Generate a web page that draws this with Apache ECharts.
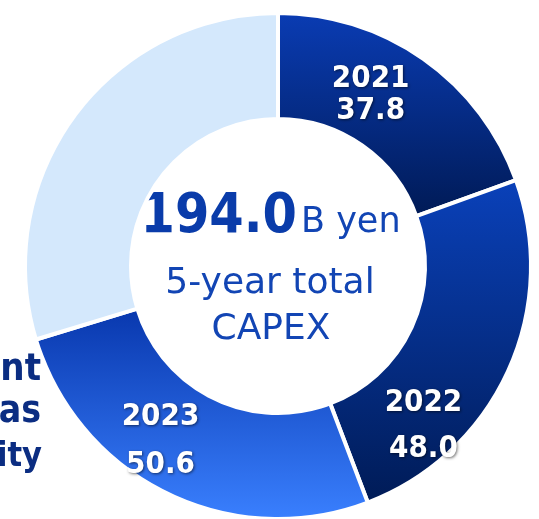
<!DOCTYPE html>
<html>
<head>
<meta charset="utf-8">
<script src="https://cdn.jsdelivr.net/npm/echarts@6/dist/echarts.min.js"></script>
<style>
html,body{margin:0;padding:0;background:#fff;}
#chart{width:539px;height:519px;}
</style>
</head>
<body>
<div id="chart"></div>
<script>
// ---- data ----
const categories = ['2021', '2022', '2023', 'Remaining'];
const capexValues = [37.8, 48.0, 50.6, 57.6];
const totalValue = '194.0';
const totalUnit = 'B yen';
const centerLines = ['5-year total', 'CAPEX'];
const sideFragments = ['nt', 'as', 'ity'];

// ---- styles ----
const gradients = [
  ['#0a3cb4', '#001a55'],
  ['#0a41ba', '#001b56'],
  ['#0837ad', '#3a80ff'],
  ['#d4e8fc', '#d4e8fc']
];
const labelShifts = [[-24, -5], [-39, 75], [-28, -7]];
const labelLineHeights = [32, 46, 48];
const sideSizes = [38, 37, 34];
const boldFont = '"DejaVu Sans Condensed", "DejaVu Sans", sans-serif';
const regFont = '"DejaVu Sans", Verdana, sans-serif';

const chart = echarts.init(document.getElementById('chart'), null, {renderer: 'canvas'});

const pieData = categories.map((c, i) => ({
  name: c,
  value: capexValues[i],
  itemStyle: {
    color: new echarts.graphic.LinearGradient(0, 0, 0, 1, [
      {offset: 0, color: gradients[i][0]},
      {offset: 1, color: gradients[i][1]}
    ])
  },
  label: i < 3 ? {show: true, lineHeight: labelLineHeights[i]} : {show: false}
}));

chart.setOption({
  animation: false,
  series: [{
    type: 'pie',
    center: [278, 266],
    radius: [147, 253],
    startAngle: 90,
    clockwise: true,
    avoidLabelOverlap: false,
    silent: true,
    itemStyle: {borderColor: '#ffffff', borderWidth: 4},
    label: {
      show: true,
      position: 'inside',
      rotate: 0,
      color: '#ffffff',
      fontFamily: boldFont,
      fontWeight: 'bold',
      fontSize: 31,
      align: 'center',
      textShadowColor: 'rgba(0,0,0,0.55)',
      textShadowBlur: 3,
      textShadowOffsetX: 1,
      textShadowOffsetY: 1,
      formatter: p => p.name + '\n' + p.value.toFixed(1)
    },
    labelLine: {show: false},
    labelLayout: function (params) {
      const s = labelShifts[params.dataIndex];
      return s ? {dx: s[0], dy: s[1]} : {};
    },
    data: pieData
  }],
  graphic: [
    {type: 'text', x: 297, y: 218, style: {text: totalValue, align: 'right', verticalAlign: 'middle', font: 'bold 55px ' + boldFont, fill: '#0a3caa'}},
    {type: 'text', x: 301, y: 223, style: {text: totalUnit, align: 'left', verticalAlign: 'middle', font: '35px ' + regFont, fill: '#1245b4'}},
    {type: 'text', x: 270, y: 284, style: {text: centerLines[0], align: 'center', verticalAlign: 'middle', font: '36px ' + regFont, fill: '#1245b4'}},
    {type: 'text', x: 271, y: 330, style: {text: centerLines[1], align: 'center', verticalAlign: 'middle', font: '36px ' + regFont, fill: '#1245b4'}},
    {type: 'text', x: 41, y: 370, style: {text: sideFragments[0], align: 'right', verticalAlign: 'middle', font: 'bold ' + sideSizes[0] + 'px ' + boldFont, fill: '#0b2d82'}},
    {type: 'text', x: 41, y: 412, style: {text: sideFragments[1], align: 'right', verticalAlign: 'middle', font: 'bold ' + sideSizes[1] + 'px ' + boldFont, fill: '#0b2d82'}},
    {type: 'text', x: 42, y: 457, style: {text: sideFragments[2], align: 'right', verticalAlign: 'middle', font: 'bold ' + sideSizes[2] + 'px ' + boldFont, fill: '#0b2d82'}}
  ]
});
</script>
</body>
</html>
